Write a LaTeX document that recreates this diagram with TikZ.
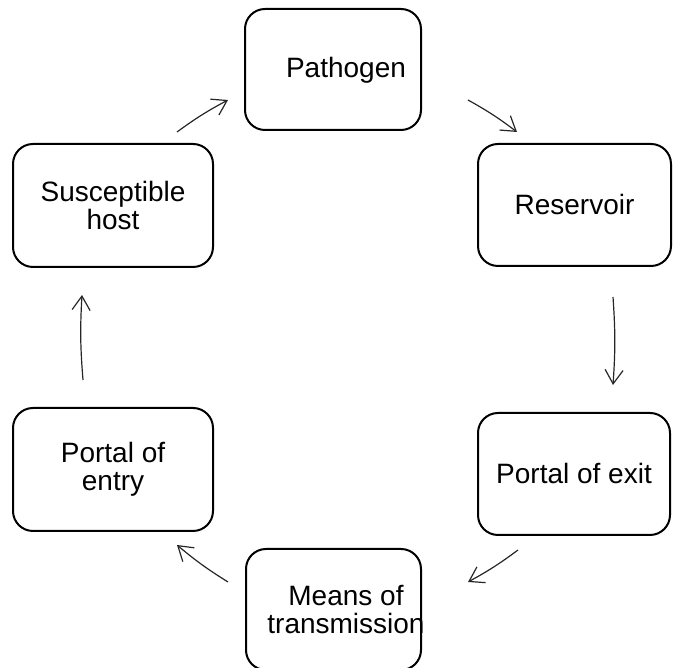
\documentclass[tikz,border=0pt]{standalone}
\usepackage{fontspec}
\setmainfont{Liberation Sans}
\usetikzlibrary{arrows.meta}
\begin{document}
\begin{tikzpicture}[x=1pt,y=1pt,
  box/.style={draw=black, line width=2pt, rounded corners=20pt, outer sep=0pt,
    inner sep=0pt, align=center, font=\fontsize{28}{28.5}\selectfont},
  txt/.style={inner sep=0pt, align=center, font=\fontsize{28}{28.5}\selectfont},
  cyc/.style={draw=black!85, line width=1.2pt,
    -{Straight Barb[length=14pt,width=18pt,line width=1.2pt]}, bend left=4}]
\useasboundingbox (0,0) rectangle (673,668);
% boxes
\node[box, minimum width=176pt, minimum height=121pt] (pat) at (333,598.5) {};
\node[txt] at ([xshift=13pt,yshift=-1pt]pat.center) {Pathogen};
\node[box, minimum width=193pt, minimum height=122pt] (res) at (574.5,463) {Reservoir};
\node[box, minimum width=192pt, minimum height=122pt] (exi) at (574,194) {Portal of exit};
\node[box, minimum width=175pt, minimum height=121pt] (mea) at (333.5,58.5) {};
\node[txt] at ([xshift=12.5pt]mea.center) {Means of\\transmission};
\node[box, minimum width=200pt, minimum height=123pt] (ent) at (113,198.5) {Portal of\\entry};
\node[box, minimum width=200pt, minimum height=123pt] (sus) at (113,462.5) {Susceptible\\host};
% arrow end points
\coordinate (a1s) at (177,536);
\coordinate (a1e) at (228,568);
\coordinate (a2s) at (468,568);
\coordinate (a2e) at (517,536);
\coordinate (a3s) at (613,371);
\coordinate (a3e) at (613,283);
\coordinate (a4s) at (518,118);
\coordinate (a4e) at (468,86);
\coordinate (a5s) at (228,86);
\coordinate (a5e) at (177,123);
\coordinate (a6s) at (83,288);
\coordinate (a6e) at (82,373);
% connectors
\draw[cyc] (a1s) to (a1e);
\draw[cyc] (a2s) to (a2e);
\draw[cyc] (a3s) to (a3e);
\draw[cyc] (a4s) to (a4e);
\draw[cyc] (a5s) to (a5e);
\draw[cyc] (a6s) to (a6e);
\end{tikzpicture}
\end{document}
